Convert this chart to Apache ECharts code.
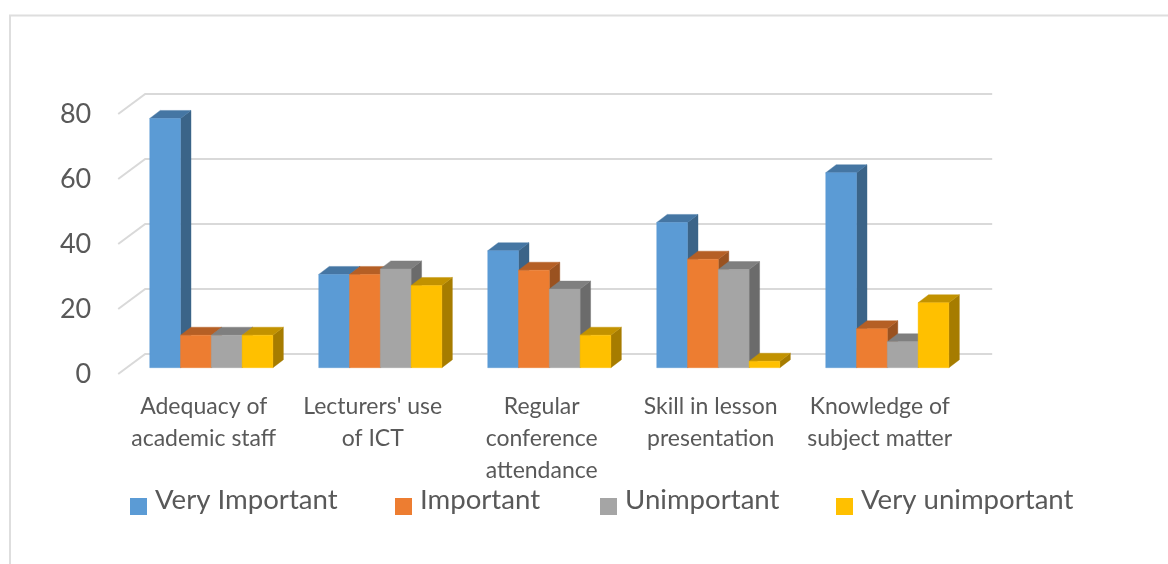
<!DOCTYPE html>
<html>
<head>
<meta charset="utf-8">
<style>html,body{margin:0;padding:0;background:#fff}#c{width:1168px;height:564px}</style>
<script src="https://cdn.jsdelivr.net/npm/echarts@6/dist/echarts.min.js"></script>
</head>
<body>
<div id="c"></div>
<script>
const categories = ["Adequacy of\nacademic staff", "Lecturers' use\nof ICT", "Regular\nconference\nattendance", "Skill in lesson\npresentation", "Knowledge of\nsubject matter"];
const veryImportant = [76.7, 28.7, 36, 44.7, 60];
const important = [10, 28.7, 30, 33.4, 12];
const unimportant = [10, 30.4, 24.2, 30.2, 8];
const veryUnimportant = [10, 25.3, 10, 2, 20];
const seriesNames = ["Very Important", "Important", "Unimportant", "Very unimportant"];
const yTicks = [0, 20, 40, 60, 80];

const seriesValues = [veryImportant, important, unimportant, veryUnimportant];
const frontColors = ["#5B9BD5", "#ED7D31", "#A5A5A5", "#FFC000"];
const topColors = ["#4576A3", "#B55F25", "#7F7F7F", "#C29200"];
const sideColors = ["#3B6488", "#9A5220", "#6B6B6B", "#A67C00"];
const legendLefts = [130, 395, 600, 836];
const FONT = "Lato, Carlito, Calibri, sans-serif";
const TEXT = "#595959";
const GRID_COLOR = "#D9D9D9";

function poly(points, fill) {
  return { type: "polygon", shape: { points }, style: { fill, stroke: fill, lineWidth: 0.4 } };
}

function barRenderer(si) {
  return function (params, api) {
    const band = api.size([1, 0])[0];
    const w = band * 0.1822;
    const zero = api.coord([api.value(0), 0]);
    const top = api.coord([api.value(0), api.value(1)]);
    const planeX = 8.6, planeY = -6.3, dx = 10.5, dy = -8;
    const x0 = zero[0] + planeX + (si - 2) * w, x1 = x0 + w;
    const yb = zero[1] + planeY, yt = top[1] + planeY;
    return {
      type: "group",
      children: [
        poly([[x1, yb], [x1 + dx, yb + dy], [x1 + dx, yt + dy], [x1, yt]], sideColors[si]),
        poly([[x0, yt], [x0 + dx, yt + dy], [x1 + dx, yt + dy], [x1, yt]], topColors[si]),
        poly([[x0, yb], [x1, yb], [x1, yt], [x0, yt]], frontColors[si])
      ]
    };
  };
}

function wallRenderer(params, api) {
  const p = api.coord([0, api.value(0)]);
  const left = params.coordSys.x, right = left + params.coordSys.width;
  const style = { stroke: GRID_COLOR, lineWidth: 2, fill: null };
  return {
    type: "group",
    children: [
      { type: "polyline", shape: { points: [[left, p[1]], [left + 27, p[1] - 20], [right + 29, p[1] - 20]] }, style }
    ]
  };
}

const chart = echarts.init(document.getElementById("c"), null, { renderer: "canvas" });
chart.setOption({
  animation: false,
  backgroundColor: "#fff",
  textStyle: { fontFamily: FONT },
  graphic: [{
    type: "polyline", silent: true, z: 0,
    shape: { points: [[10, 564], [10, 15.5], [1168, 15.5]] },
    style: { stroke: "#DEDEDE", lineWidth: 2, fill: null }
  }],
  grid: { left: 118.2, top: 114, width: 845, height: 260, containLabel: false },
  xAxis: {
    type: "category", data: categories,
    axisLine: { show: false }, axisTick: { show: false }, splitLine: { show: false },
    axisLabel: { interval: 0, color: TEXT, fontSize: 23, lineHeight: 32, margin: 17, fontFamily: FONT, padding: [0, 0, 0, 2] }
  },
  yAxis: {
    type: "value", min: 0, max: 80, interval: 20,
    axisLine: { show: false }, axisTick: { show: false }, splitLine: { show: false },
    axisLabel: { color: TEXT, fontSize: 27, margin: 27, fontFamily: FONT, padding: [3, 0, 0, 0] }
  },
  legend: seriesNames.map((n, i) => ({
    data: [n], left: legendLefts[i], top: 486, padding: 0, icon: "rect",
    itemWidth: 17, itemHeight: 17, selectedMode: false,
    formatter: "{a|{name}}",
    textStyle: {
      color: TEXT, fontFamily: FONT,
      rich: { a: { color: TEXT, fontSize: 27.6, fontFamily: FONT, padding: [0, 0, 13, 3] } }
    }
  })),
  series: [
    {
      type: "custom", name: "wall", silent: true, z: 1,
      renderItem: wallRenderer,
      encode: { y: 0 }, data: yTicks.map(v => [v])
    }
  ].concat(seriesNames.map((n, si) => ({
    type: "custom", name: n, z: 2 + si,
    itemStyle: { color: frontColors[si] },
    renderItem: barRenderer(si),
    encode: { x: 0, y: 1 },
    data: seriesValues[si].map((v, i) => [i, v])
  })))
});
</script>
</body>
</html>
